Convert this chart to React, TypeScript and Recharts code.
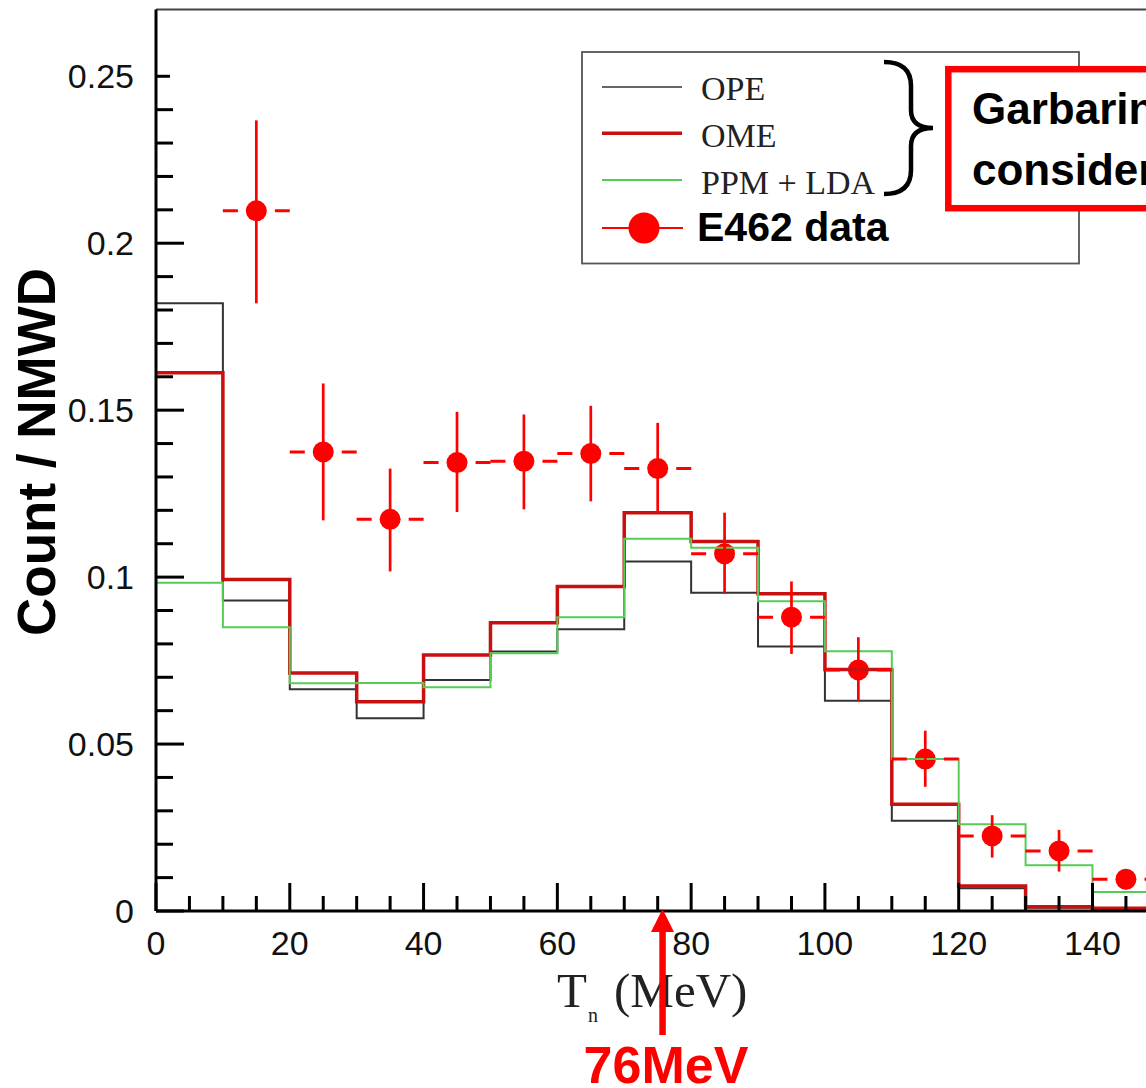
import React from 'react';
import { ComposedChart, Line, Scatter, ErrorBar, XAxis, YAxis } from 'recharts';

// ---- data ----
const binEdges = [0, 10, 20, 30, 40, 50, 60, 70, 80, 90, 100, 110, 120, 130, 140, 150];
const opeValues = [0.182, 0.093, 0.0664, 0.0577, 0.0692, 0.0777, 0.0844, 0.1047, 0.0953, 0.0792, 0.063, 0.027, 0.0068, 0.001, 0.0003];
const omeValues = [0.1612, 0.0993, 0.0713, 0.0627, 0.0767, 0.0863, 0.0972, 0.1193, 0.1107, 0.095, 0.0723, 0.032, 0.0075, 0.0013, 0.0008];
const ppmValues = [0.0983, 0.085, 0.0682, 0.0683, 0.067, 0.0772, 0.088, 0.1115, 0.1088, 0.0928, 0.0778, 0.0455, 0.026, 0.0137, 0.0057];

const e462X = [15, 25, 35, 45, 55, 65, 75, 85, 95, 105, 115, 125, 135, 145];
const e462Y = [0.2097, 0.1375, 0.1173, 0.1343, 0.1347, 0.137, 0.1325, 0.107, 0.088, 0.0722, 0.0455, 0.0225, 0.018, 0.0095];
const e462ErrLow = [0.0277, 0.0205, 0.0156, 0.0148, 0.0144, 0.0143, 0.013, 0.012, 0.011, 0.0094, 0.0083, 0.0065, 0.0062, 0.003];
const e462ErrHigh = [0.0271, 0.0205, 0.0152, 0.0152, 0.014, 0.0143, 0.0137, 0.0123, 0.0107, 0.0098, 0.0085, 0.0062, 0.0063, 0.003];
const e462ErrX = [5, 5, 5, 5, 5, 5, 5, 5, 5, 5, 5, 5, 5, 5];

const xTicks = [0, 5, 10, 15, 20, 25, 30, 35, 40, 45, 50, 55, 60, 65, 70, 75, 80, 85, 90, 95, 100, 105, 110, 115, 120, 125, 130, 135, 140, 145];
const xMajorTicks = [0, 20, 40, 60, 80, 100, 120, 140];
const topTicks = [20, 40, 60, 80, 100, 120, 140];
const yTicks = [0, 0.01, 0.02, 0.03, 0.04, 0.05, 0.06, 0.07, 0.08, 0.09, 0.1, 0.11, 0.12, 0.13, 0.14, 0.15, 0.16, 0.17, 0.18, 0.19, 0.2, 0.21, 0.22, 0.23, 0.24, 0.25];
const yMajorTicks = [0, 0.05, 0.1, 0.15, 0.2, 0.25];
const yMajorLabels = ['0', '0.05', '0.1', '0.15', '0.2', '0.25'];

const histData = binEdges.map((x, i) => {
  const k = Math.min(i, opeValues.length - 1);
  return { x, ope: opeValues[k], ome: omeValues[k], ppm: ppmValues[k] };
});

const pointData = e462X.map((x, i) => ({
  x,
  y: e462Y[i],
  errY: [e462ErrLow[i], e462ErrHigh[i]],
  errX: e462ErrX[i],
}));

const SANS = "'Liberation Sans', Arial, Helvetica, sans-serif";
const SERIF = "'Liberation Serif', 'Times New Roman', serif";

const BottomTick = (props: any) => {
  const { x, y, payload } = props;
  const v = payload.value;
  const major = xMajorTicks.includes(v);
  return (
    <g>
      <line x1={x} x2={x} y1={y} y2={y - (major ? 28 : 15)} stroke="#000" strokeWidth={3} />
      {major && (
        <text x={x} y={y + 44} textAnchor="middle" fontFamily={SANS} fontSize={34} fill="#111">
          {v}
        </text>
      )}
    </g>
  );
};

const TopTick = (props: any) => {
  const { x, y } = props;
  return <line x1={x} x2={x} y1={y} y2={y + 14} stroke="#333" strokeWidth={2} />;
};

const LeftTick = (props: any) => {
  const { x, y, payload } = props;
  const v = payload.value;
  const idx = yMajorTicks.findIndex((t) => Math.abs(t - v) < 1e-9);
  const major = idx >= 0;
  const len = major ? (v > 0.24 ? 14 : 28) : 17;
  return (
    <g>
      <line x1={x} x2={x + len} y1={y} y2={y} stroke="#000" strokeWidth={3} />
      {major && (
        <text x={x - 22} y={y + 12} textAnchor="end" fontFamily={SANS} fontSize={34} fill="#111">
          {yMajorLabels[idx]}
        </text>
      )}
    </g>
  );
};

const MarkerShape = (props: any) => {
  const { cx, cy } = props;
  if (cx == null || cy == null) return null;
  return (
    <g>
      <circle cx={cx} cy={cy} r={16} fill="#ffffff" />
      <circle cx={cx} cy={cy} r={10.5} fill="#ff0000" />
    </g>
  );
};

const Overlay = () => (
  <svg
    width={1146}
    height={1088}
    style={{ position: 'absolute', left: 0, top: 0, pointerEvents: 'none' }}
  >
    {/* legend */}
    <rect x={582} y={52} width={497} height={211.5} fill="#fff" stroke="#555" strokeWidth={1.8} />
    <line x1={602} x2={682} y1={87} y2={87} stroke="#333" strokeWidth={1.5} />
    <text x={701} y={100} fontFamily={SERIF} fontSize={34} fill="#222">OPE</text>
    <line x1={602} x2={682} y1={133.3} y2={133.3} stroke="#c81010" strokeWidth={3.5} />
    <text x={701} y={147} fontFamily={SERIF} fontSize={34} fill="#222">OME</text>
    <line x1={602} x2={682} y1={180} y2={180} stroke="#55cc55" strokeWidth={2} />
    <text x={701} y={194} fontFamily={SERIF} fontSize={34} fill="#222">PPM + LDA</text>
    <line x1={602} x2={683} y1={228} y2={228} stroke="#ff0000" strokeWidth={1.8} />
    <circle cx={644} cy={228} r={15.5} fill="#ff0000" />
    <text x={697} y={241} fontFamily={SANS} fontWeight="bold" fontSize={41} fill="#000">E462 data</text>

    {/* brace */}
    <path
      d="M 884 62 Q 911 62 911 86 L 911 110 Q 911 128 933 128 Q 911 128 911 146 L 911 170 Q 911 194 884 194"
      fill="none"
      stroke="#000"
      strokeWidth={4.5}
    />

    {/* red box */}
    <rect x={948.3} y={69.2} width={400} height={139} fill="#fff" stroke="#ff0000" strokeWidth={6.5} />
    <text x={972} y={124} fontFamily={SANS} fontWeight="bold" fontSize={44} fill="#000">Garbarino et al.</text>
    <text x={972} y={185} fontFamily={SANS} fontWeight="bold" fontSize={44} fill="#000">considered FSI</text>

    {/* y label */}
    <text
      x={55}
      y={452}
      transform="rotate(-90 55 452)"
      textAnchor="middle"
      fontFamily={SANS}
      fontWeight="bold"
      fontSize={53}
      fill="#000"
    >
      Count / NMWD
    </text>

    {/* x label */}
    <text x={557} y={1006.7} fontFamily={SERIF} fontSize={49} fill="#222">T</text>
    <text x={588} y={1021.5} fontFamily={SERIF} fontSize={20} fill="#222">n</text>
    <text x={614} y={1006.7} fontFamily={SERIF} fontSize={49} fill="#222">(MeV)</text>

    {/* arrow */}
    <polygon points="662.5,909 651,932 674,932" fill="#ff0000" />
    <rect x={659.3} y={930} width={6.5} height={105} fill="#ff0000" />
    <text x={666} y={1083} textAnchor="middle" fontFamily={SANS} fontWeight="bold" fontSize={52} fill="#ff0000">76MeV</text>
  </svg>
);

export default function App() {
  return (
    <div style={{ position: 'relative', width: 1146, height: 1088, background: '#fff', overflow: 'hidden' }}>
      <style>{'html,body{margin:0;padding:0;overflow:hidden;background:#fff}'}</style>
      <div style={{ position: 'absolute', left: 0, top: 0 }}>
        <ComposedChart
          width={1146}
          height={1088}
          data={histData}
          margin={{ top: 8.5, right: 0, bottom: 176, left: 155 }}
        >
          <XAxis
            dataKey="x"
            type="number"
            domain={[0, 148]}
            allowDataOverflow
            ticks={xTicks}
            interval={0}
            height={1}
            tickSize={0}
            tickMargin={0}
            tickLine={false}
            axisLine={{ stroke: '#000', strokeWidth: 3 }}
            tick={(p: any) => <BottomTick {...p} />}
          />
          <XAxis
            xAxisId="top"
            orientation="top"
            type="number"
            domain={[0, 148]}
            allowDataOverflow
            ticks={topTicks}
            interval={0}
            height={1}
            tickSize={0}
            tickMargin={0}
            tickLine={false}
            axisLine={{ stroke: '#444', strokeWidth: 2 }}
            tick={(p: any) => <TopTick {...p} />}
          />
          <YAxis
            type="number"
            domain={[0, 0.27]}
            allowDataOverflow
            ticks={yTicks}
            interval={0}
            width={1}
            tickSize={0}
            tickMargin={0}
            tickLine={false}
            axisLine={{ stroke: '#000', strokeWidth: 3 }}
            tick={(p: any) => <LeftTick {...p} />}
          />
          <Scatter
            data={pointData}
            dataKey="y"
            isAnimationActive={false}
            shape={MarkerShape}
            zIndex={350}
          >
            <ErrorBar dataKey="errX" direction="x" width={0} stroke="#ff0000" strokeWidth={3} strokeDasharray="15 37 15" />
            <ErrorBar dataKey="errY" direction="y" width={0} stroke="#ff0000" strokeWidth={2.7} />
          </Scatter>
          <Line
            type="stepAfter"
            dataKey="ope"
            stroke="#333"
            strokeWidth={2}
            dot={false}
            activeDot={false}
            isAnimationActive={false}
            zIndex={400}
          />
          <Line
            type="stepAfter"
            dataKey="ome"
            stroke="#c81010"
            strokeWidth={3.5}
            dot={false}
            activeDot={false}
            isAnimationActive={false}
            zIndex={400}
          />
          <Line
            type="stepAfter"
            dataKey="ppm"
            stroke="#55cc55"
            strokeWidth={2}
            dot={false}
            activeDot={false}
            isAnimationActive={false}
            zIndex={400}
          />
        </ComposedChart>
      </div>
      <Overlay />
    </div>
  );
}
